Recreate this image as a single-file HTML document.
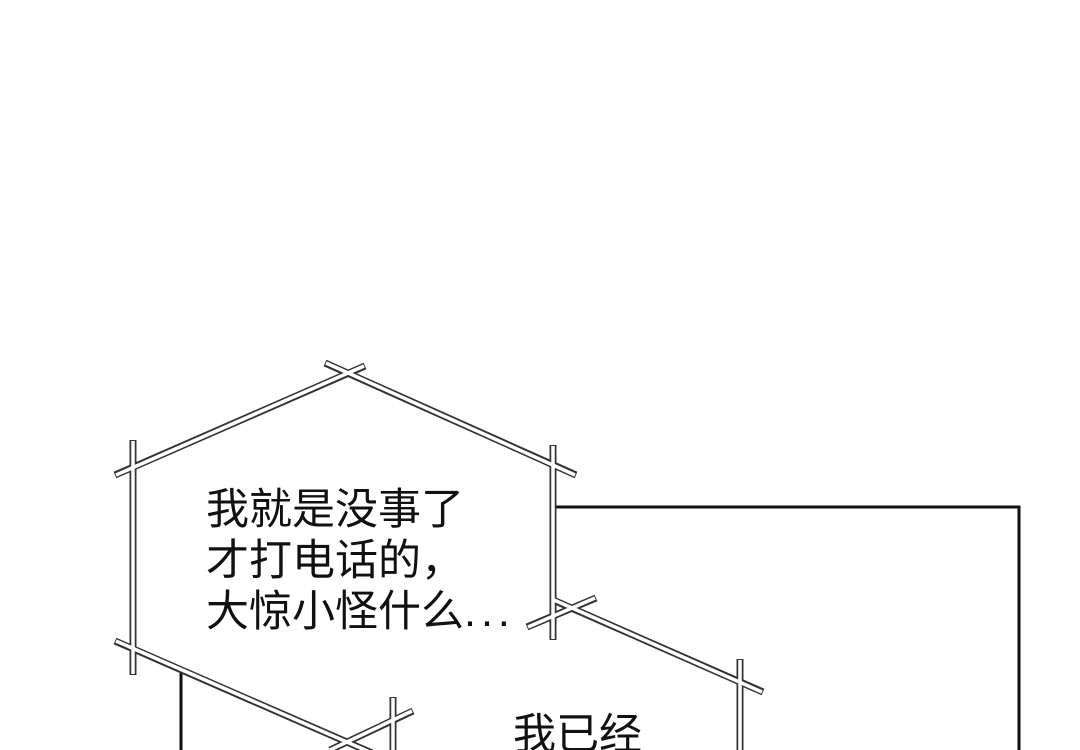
<!DOCTYPE html>
<html><head><meta charset="utf-8"><style>
html,body{margin:0;padding:0;background:#fff;width:1080px;height:750px;overflow:hidden}
svg{position:absolute;left:0;top:0}
.t{font-family:"Liberation Sans","Noto Sans CJK SC",sans-serif;font-size:43px;fill:#111}
</style></head><body>
<svg width="1080" height="750" viewBox="0 0 1080 750">
<g fill="none" stroke="#111" stroke-width="3">
<polyline points="553,507 1019,507 1019,750"/>
<line x1="181" y1="672" x2="181" y2="750"/>
</g>
<g stroke-linecap="butt">
<g stroke="#333" stroke-width="7">
<line x1="115" y1="475" x2="365" y2="366"/>
<line x1="325" y1="363" x2="576" y2="475"/>
<line x1="133" y1="440" x2="133" y2="675"/>
<line x1="553" y1="445" x2="553" y2="640"/>
<line x1="115" y1="641" x2="372" y2="753"/>
<line x1="413" y1="711" x2="330" y2="750"/>
<line x1="393" y1="697" x2="393" y2="750"/>
<line x1="527" y1="627" x2="596" y2="598"/>
<line x1="553" y1="600" x2="763" y2="692"/>
<line x1="740" y1="659" x2="740" y2="750"/>
</g>
<g stroke="#fff" stroke-width="3.5">
<line x1="116" y1="475" x2="364" y2="366"/>
<line x1="326" y1="363" x2="575" y2="475"/>
<line x1="133" y1="441" x2="133" y2="674"/>
<line x1="553" y1="446" x2="553" y2="639"/>
<line x1="116" y1="641" x2="372" y2="753"/>
<line x1="412" y1="711" x2="330" y2="750"/>
<line x1="393" y1="698" x2="393" y2="750"/>
<line x1="528" y1="627" x2="595" y2="598"/>
<line x1="554" y1="600" x2="762" y2="692"/>
<line x1="740" y1="660" x2="740" y2="750"/>
</g>
</g>
<text class="t" x="206" y="524">我就是没事了</text>
<text class="t" x="206" y="575">才打电话的，</text>
<text class="t" x="206" y="626">大惊小怪什么<tspan letter-spacing="5">...</tspan></text>
<text class="t" x="513" y="749">我已经</text>
</svg>
</body></html>
